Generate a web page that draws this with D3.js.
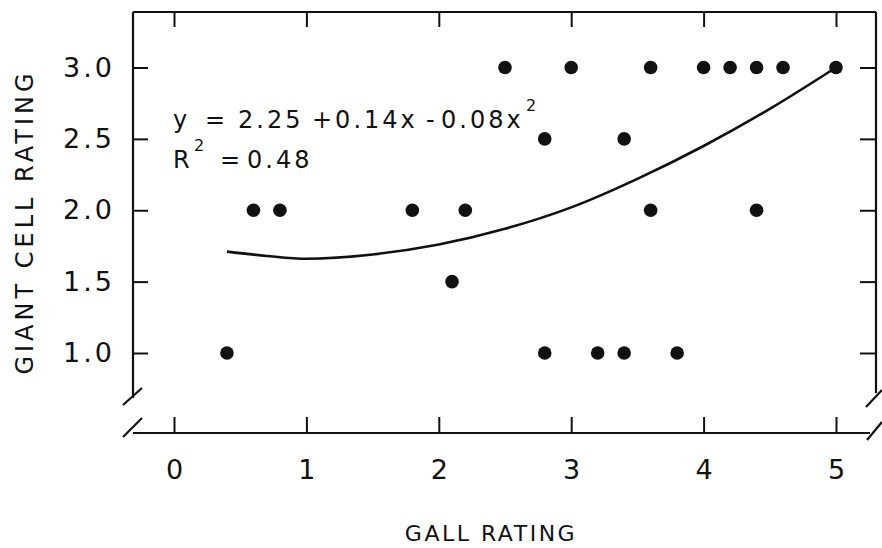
<!DOCTYPE html>
<html>
  <head>
    <meta charset="utf-8">
    <title>Giant cell rating vs gall rating</title>
    <script src="https://cdn.jsdelivr.net/npm/d3@7"></script>
    <style>
      body { margin: 0; background: #fff; }
      svg { display: block; font-family: "DejaVu Sans", sans-serif; }
      .tick text { font-size: 27px; fill: #111; }
      .yAxis .tick text { letter-spacing: 3px; }
      .tick line { stroke: #111; stroke-width: 2; }
      .frame { stroke: #111; stroke-width: 2.2; fill: none; }
      .title { fill: #111; }
      .eq { font-size: 24px; fill: #111; }
    </style>
  </head>

  <body>
    <svg id="chart" width="882" height="548"></svg>

    <script>
      // data
      gall = [0.4, 0.6, 0.8, 1.8, 2.1, 2.2, 2.5, 2.8, 2.8, 3.0, 3.2, 3.4, 3.4, 3.6, 3.6, 3.8, 4.0, 4.2, 4.4, 4.4, 4.6, 5.0];
      giant = [1.0, 2.0, 2.0, 2.0, 1.5, 2.0, 3.0, 2.5, 1.0, 3.0, 1.0, 2.5, 1.0, 3.0, 2.0, 1.0, 3.0, 3.0, 3.0, 2.0, 3.0, 3.0];
      // fitted curve
      curveX = [0.4, 0.7, 1.0, 1.5, 2.0, 2.5, 3.0, 3.5, 4.0, 4.5, 5.0];
      curveY = [1.71, 1.68, 1.66, 1.69, 1.76, 1.87, 2.02, 2.22, 2.45, 2.71, 3.0];
      xTicks = [0, 1, 2, 3, 4, 5];
      yTicks = [1.0, 1.5, 2.0, 2.5, 3.0];

      const svg = d3.select("#chart");

      // frame edges
      const fLeft = 133, fRight = 876, fTop = 12, fBottom = 433;

      const x = d3.scaleLinear().domain([0, 5]).range([174, 836]);
      const y = d3.scaleLinear().domain([1, 3]).range([353, 67.5]);

      // axes (ticks point inward)
      svg.append("g")
        .attr("transform", "translate(0," + fBottom + ")")
        .call(d3.axisBottom(x).tickValues(xTicks).tickSize(-16).tickPadding(27).tickFormat(d3.format("d")))
        .call(g => g.select(".domain").remove());
      svg.append("g")
        .attr("transform", "translate(0," + fTop + ")")
        .call(d3.axisTop(x).tickValues(xTicks).tickSize(-15).tickFormat(""))
        .call(g => g.select(".domain").remove());
      svg.append("g")
        .classed("yAxis", true)
        .attr("transform", "translate(" + fLeft + ",0)")
        .call(d3.axisLeft(y).tickValues(yTicks).tickSize(-15).tickPadding(18).tickFormat(d3.format(".1f")))
        .call(g => g.select(".domain").remove());
      svg.append("g")
        .attr("transform", "translate(" + fRight + ",0)")
        .call(d3.axisRight(y).tickValues(yTicks).tickSize(-16).tickFormat(""))
        .call(g => g.select(".domain").remove());
      svg.selectAll("g").attr("font-family", null).attr("font-size", null);

      // frame lines with axis breaks
      const frame = [
        [[fLeft, fTop], [fRight, fTop]],
        [[fLeft, fTop], [fLeft, 398]],
        [[fRight, fTop], [fRight, 393]],
        [[fLeft, fBottom], [870, fBottom]],
        [[123, 405], [142, 388]],
        [[123, 437], [142, 418]],
        [[866, 407], [882, 390]],
        [[867, 440], [882, 422]]
      ];
      svg.selectAll(".frame")
        .data(frame)
        .enter().append("path")
          .classed("frame", true)
          .attr("d", d => d3.line()(d));

      // fitted curve
      svg.append("path")
        .datum(curveX.map((d, i) => [d, curveY[i]]))
        .attr("fill", "none")
        .attr("stroke", "#111")
        .attr("stroke-width", 2.6)
        .attr("d", d3.line().x(d => x(d[0])).y(d => y(d[1])).curve(d3.curveMonotoneX));

      // points
      svg.selectAll(".dot")
        .data(gall)
        .enter().append("circle")
          .classed("dot", true)
          .attr("cx", d => x(d))
          .attr("cy", (d, i) => y(giant[i]))
          .attr("r", 6.8)
          .attr("fill", "#111");

      // equation, pieces placed as in the figure
      const eqParts = [
        {t: "y", x: 173}, {t: "=", x: 205}, {t: "2.25", x: 238},
        {t: "+0.14x", x: 312}, {t: "-", x: 426}, {t: "0.08x", x: 441}
      ];
      const eq = svg.append("text").classed("eq", true).attr("y", 128).attr("letter-spacing", 3);
      eqParts.forEach(p => eq.append("tspan").attr("x", p.x).text(p.t));
      eq.append("tspan").attr("x", 526).attr("y", 111).attr("font-size", 16).text("2");

      const r2 = svg.append("text").classed("eq", true).attr("y", 168).attr("letter-spacing", 3);
      r2.append("tspan").attr("x", 173).text("R");
      r2.append("tspan").attr("x", 194).attr("y", 151).attr("font-size", 16).text("2");
      r2.append("tspan").attr("x", 220).attr("y", 168).text("=");
      r2.append("tspan").attr("x", 247).text("0.48");

      // axis titles
      svg.append("text")
        .classed("title", true)
        .attr("text-anchor", "middle")
        .attr("font-size", 22)
        .attr("letter-spacing", 2.5)
        .attr("x", 491)
        .attr("y", 541)
        .text("GALL RATING");
      svg.append("text")
        .classed("title", true)
        .attr("text-anchor", "middle")
        .attr("font-size", 24)
        .attr("letter-spacing", 4)
        .attr("transform", "translate(33,222) rotate(-90)")
        .text("GIANT CELL RATING");
    </script>
  </body>
</html>
